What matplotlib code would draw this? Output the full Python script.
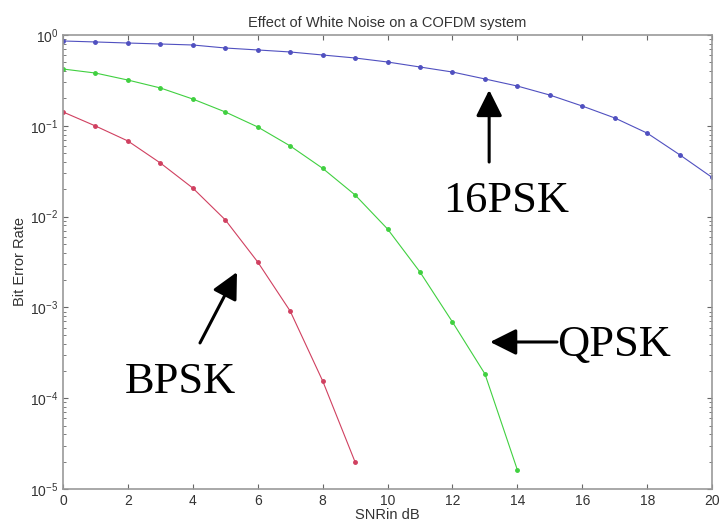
import matplotlib.pyplot as plt
import numpy as np

# SNR values (dB) and read-off bit error rates
snr = np.arange(0, 21)
ber_16psk = [0.859, 0.838, 0.816, 0.796, 0.776, 0.719, 0.684, 0.650, 0.602, 0.558,
             0.504, 0.444, 0.391, 0.328, 0.274, 0.218, 0.165, 0.122, 0.083, 0.048, 0.027]
ber_qpsk = [0.422, 0.381, 0.319, 0.261, 0.197, 0.142, 0.097, 0.060, 0.034, 0.0173,
            0.0073, 0.00245, 0.00069, 0.000185, 1.62e-5]
ber_bpsk = [0.142, 0.0995, 0.068, 0.0389, 0.0206, 0.0092, 0.00316, 0.00091, 0.000155, 1.98e-5]

fig = plt.figure(figsize=(7.22, 5.27), dpi=100)
ax = fig.add_axes([0.0873, 0.0721, 0.8990, 0.8615])

ax.semilogy(snr[:len(ber_16psk)], ber_16psk, '.-', color='#5050c0', lw=0.8, ms=5)
ax.semilogy(snr[:len(ber_qpsk)], ber_qpsk, '.-', color='#40d040', lw=0.8, ms=5)
ax.semilogy(snr[:len(ber_bpsk)], ber_bpsk, '.-', color='#d04060', lw=0.8, ms=5)

ax.set_xlim(0, 20)
ax.set_ylim(1e-5, 1)
ax.set_xticks(range(0, 21, 2))
ax.tick_params(which='both', direction='in', top=True, right=True, labelsize=10,
               colors='#666666', labelcolor='#333333')
for lbl in ax.get_xticklabels() + ax.get_yticklabels():
    lbl.set_family('Liberation Sans')
for s in ax.spines.values():
    s.set_color('#999999')
    s.set_linewidth(1.2)

small = dict(fontsize=10.5, color='#333333', family='Liberation Sans')
ax.set_title('Effect of White Noise on a COFDM system', pad=6, **small)
ax.set_xlabel('SNRin dB', labelpad=0, **small)
ax.set_ylabel('Bit Error Rate', labelpad=2, **small)

# big annotations with arrows
big = dict(fontsize=32, family='Liberation Serif', color='black', va='baseline', ha='left')
arrow = dict(arrowstyle='-|>,head_width=0.8,head_length=1.6', color='black', lw=2.2,
             shrinkA=0, shrinkB=0)
ax.annotate('', xy=(13.13, 0.248), xytext=(13.13, 0.0399), arrowprops=arrow)
ax.text(11.71, 0.01124, '16PSK', **big)
ax.annotate('', xy=(13.16, 4.16e-4), xytext=(15.22, 4.16e-4), arrowprops=arrow)
ax.text(15.22, 2.92e-4, 'QPSK', **big)
ax.annotate('', xy=(5.36, 2.45e-3), xytext=(4.22, 4.06e-4), arrowprops=arrow)
ax.text(1.91, 1.14e-4, 'BPSK', **big)

fig.savefig('out.png', dpi=100)
